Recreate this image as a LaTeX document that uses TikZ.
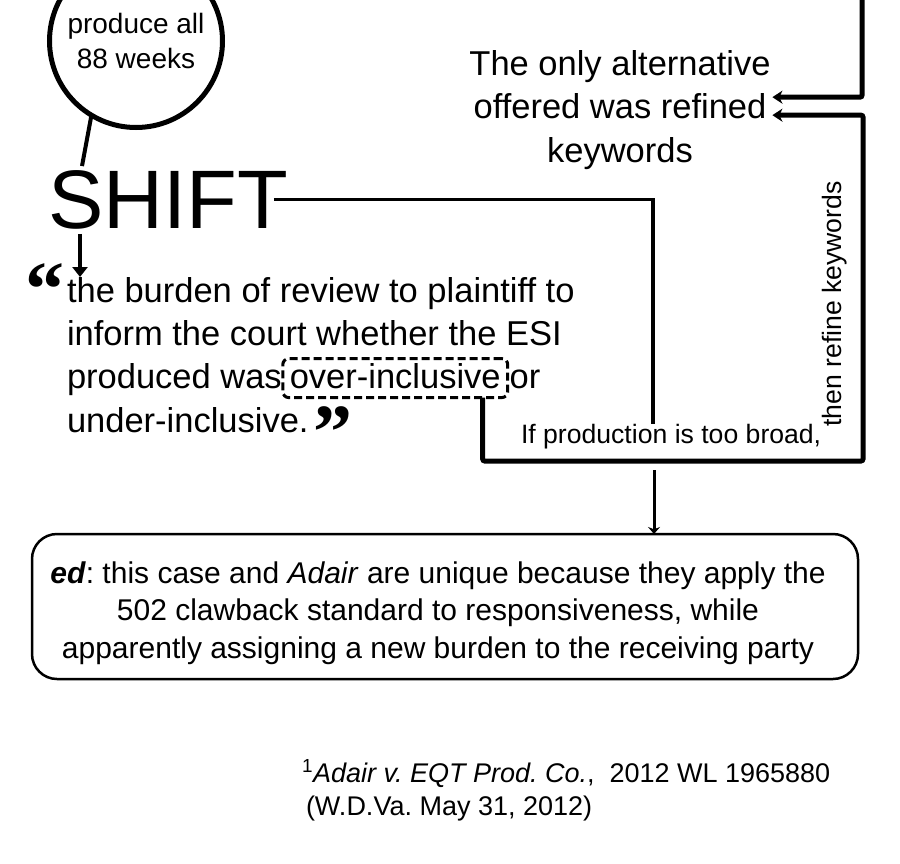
\documentclass[tikz,border=0pt]{standalone}
\usepackage{fontspec}
\setmainfont{Liberation Sans}
\newfontfamily\quotefont{Liberation Serif}
\usetikzlibrary{arrows.meta}
\newcommand\fsz[2]{\fontsize{#1}{#2}\selectfont}
\begin{document}
\frenchspacing
\begin{tikzpicture}[x=1pt,y=-1pt,
  every node/.style={inner sep=0pt, outer sep=0pt},
  lbl/.style={anchor=base west, font={\fsz{34.5}{43.5}}},
  altline/.style={anchor=base, font={\fsz{34.5}{43.5}}},
  small/.style={font={\fsz{26.6}{32}}},
  qmark/.style={anchor=base west, font={\quotefont\bfseries\fsz{78}{80}}},
  dashbox/.style={draw, dash pattern=on 8pt off 4pt, line width=3pt, rounded corners=6pt,
    inner xsep=7pt, inner ysep=5pt, text height=25pt, text depth=4pt, font={\fsz{34.5}{43.5}}},
  thickline/.style={line width=5pt, rounded corners=2pt, -{Stealth[length=10pt,width=13pt,inset=3pt]}},
  thinline/.style={line width=3.5pt},
  edbox/.style={draw, line width=2.5pt, rounded corners=25pt, minimum width=826pt, minimum height=145pt},
]
\useasboundingbox (0,0) rectangle (900,863);

% circle
\node[circle, draw, line width=5pt, minimum size=173pt, align=center, font={\fsz{28}{35}}] (circ) at (136,41) {produce all\\88 weeks};

% SHIFT
\node[anchor=base west, font={\fsz{83}{90}}] (shift) at (48,228) {SHIFT};
\draw[line width=4pt] (circ.239) -- ([xshift=34pt,yshift=4pt]shift.north west);

% quote text
\node[qmark] (oq) at (25,315) {“};
\node[lbl] (q1) at (67,302) {the burden of review to plaintiff to};
\node[lbl] (q2) at (67,345.3) {inform the court whether the ESI};
\node[lbl] (q3a) at (67,388.6) {produced was};
\node[dashbox, anchor=base west] (oi) at ([xshift=1pt]q3a.base east) {over-inclusive\hspace{4pt}};
\node[lbl] (q3b) at ([xshift=2pt]oi.base east) {or};
\node[lbl] (q4) at (67,432) {under-inclusive.};
\node[qmark] (cq) at (313,458) {”};

\draw[line width=4pt, -{Triangle[length=10pt,width=15pt]}] ([xshift=32pt,yshift=-5pt]shift.south west) -- ([xshift=13pt]q1.north west);

% alternative text
\node[altline] (alt1) at (620,75) {The only alternative};
\node[altline] (alt2) at (620,118.5) {offered was refined};
\node[altline] (alt3) at (620,162) {keywords};

% labels
\node[small, anchor=base west] (broad) at (521,443) {If production is too broad,};
\node[small, rotate=90] (refine) at (835,304) {then refine keywords};

% SHIFT connector
\draw[thinline] ([xshift=-14pt]shift.east) -| ([xshift=-18pt]broad.north);

% thick connectors
\coordinate (topin) at (862,-6);
\draw[thickline] (topin) |- ([xshift=6pt,yshift=9pt]alt2.east);
\draw[thickline] ([xshift=-25pt]oi.south east) |- (863,461) |- ([xshift=6pt,yshift=-9pt]alt2.east);

% ed box
\node[edbox] (ed) at (445,606.5) {};
\node[align=center, font={\fsz{30}{37.5}}] (edtext) at (438,613) {\textbf{\textit{ed}}: this case and \textit{Adair} are unique because they apply the\\502 clawback standard to responsiveness, while\\apparently assigning a new burden to the receiving party};

\coordinate (brk) at (654,470);
\draw[line width=3pt, -{Stealth[length=7pt,width=12pt]}] (brk) -- (ed.north -| brk);

% footnote
\node[anchor=base west, font={\fsz{27}{33}}] (fn1) at (302,782) {\textsuperscript{1}\textit{Adair v. EQT Prod. Co.},\ \ 2012 WL 1965880};
\node[anchor=base west, font={\fsz{27}{33}}] (fn2) at (306,815) {(W.D.Va. May 31, 2012)};
\end{tikzpicture}
\end{document}
